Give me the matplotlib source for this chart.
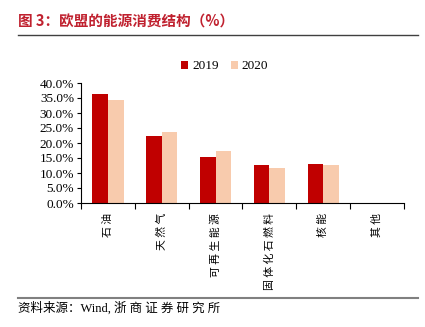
import numpy as np
import matplotlib.pyplot as plt
from matplotlib.lines import Line2D
from matplotlib.ticker import PercentFormatter

categories = ['石油', '天然气', '可再生能源', '固体化石燃料', '核能', '其他']
v2019 = [36.2, 22.3, 15.4, 12.7, 13.1, 0.1]
v2020 = [34.4, 23.8, 17.5, 11.6, 12.8, 0.1]

serif = ['Liberation Serif', 'Noto Sans CJK SC']
plt.rcParams['font.family'] = serif

fig = plt.figure(figsize=(4.25, 3.27), dpi=100)
ax = fig.add_axes([81/425, 1-203/327, 323/425, 120/327])

x = np.arange(len(categories))
w = 0.29
ax.bar(x - w/2, v2019, w, color='#C00000', label='2019')
ax.bar(x + w/2, v2020, w, color='#F8CBAD', label='2020')

ax.set_xlim(-0.5, len(categories) - 0.5)
ax.set_ylim(0, 40)
ax.set_yticks(np.arange(0, 41, 5))
ax.yaxis.set_major_formatter(PercentFormatter(decimals=1))
ax.tick_params(axis='y', labelsize=9.5, length=3, width=0.8, pad=2)

# category boundaries as ticks, labels centred as minor ticks (rotated, letter-spaced)
ax.set_xticks(np.arange(-0.5, len(categories)), labels=[])
ax.set_xticks(x, labels=[' '.join(c) for c in categories], minor=True)
ax.tick_params(axis='x', which='major', length=4, width=0.8, direction='out')
ax.tick_params(axis='x', which='minor', length=0, pad=7, labelsize=7.8)
for t in ax.get_xticklabels(minor=True):
    t.set_rotation(90)
    t.set_verticalalignment('top')
    t.set_horizontalalignment('center')
    t.set_family(['Noto Sans CJK SC', 'DejaVu Sans'])

for s in ['top', 'right']:
    ax.spines[s].set_visible(False)
for s in ['left', 'bottom']:
    ax.spines[s].set_linewidth(0.8)

ax.legend(loc='center left', bbox_to_anchor=(0.31, 1.14), ncol=2, frameon=False,
          fontsize=9.5, handlelength=0.55, handleheight=0.55, handletextpad=0.3,
          columnspacing=0.9, borderaxespad=0, borderpad=0)

fig.text(18/425, 1-22/327, '图 3：欧盟的能源消费结构（%）', color='#C0212F',
         fontsize=10.5, fontweight='bold', va='center', ha='left',
         family=['Noto Sans CJK SC', 'DejaVu Sans'])
fig.add_artist(Line2D([18/425, 418/425], [1-35/327, 1-35/327], color='#404040', lw=1.0))
fig.add_artist(Line2D([18/425, 418/425], [1-298/327, 1-298/327], color='#808080', lw=1.5))
fig.text(18/425, 1-308/327, '资料来源：Wind, 浙 商 证 券 研 究 所', fontsize=9,
         va='center', ha='left')

fig.savefig('out.png', dpi=100)
